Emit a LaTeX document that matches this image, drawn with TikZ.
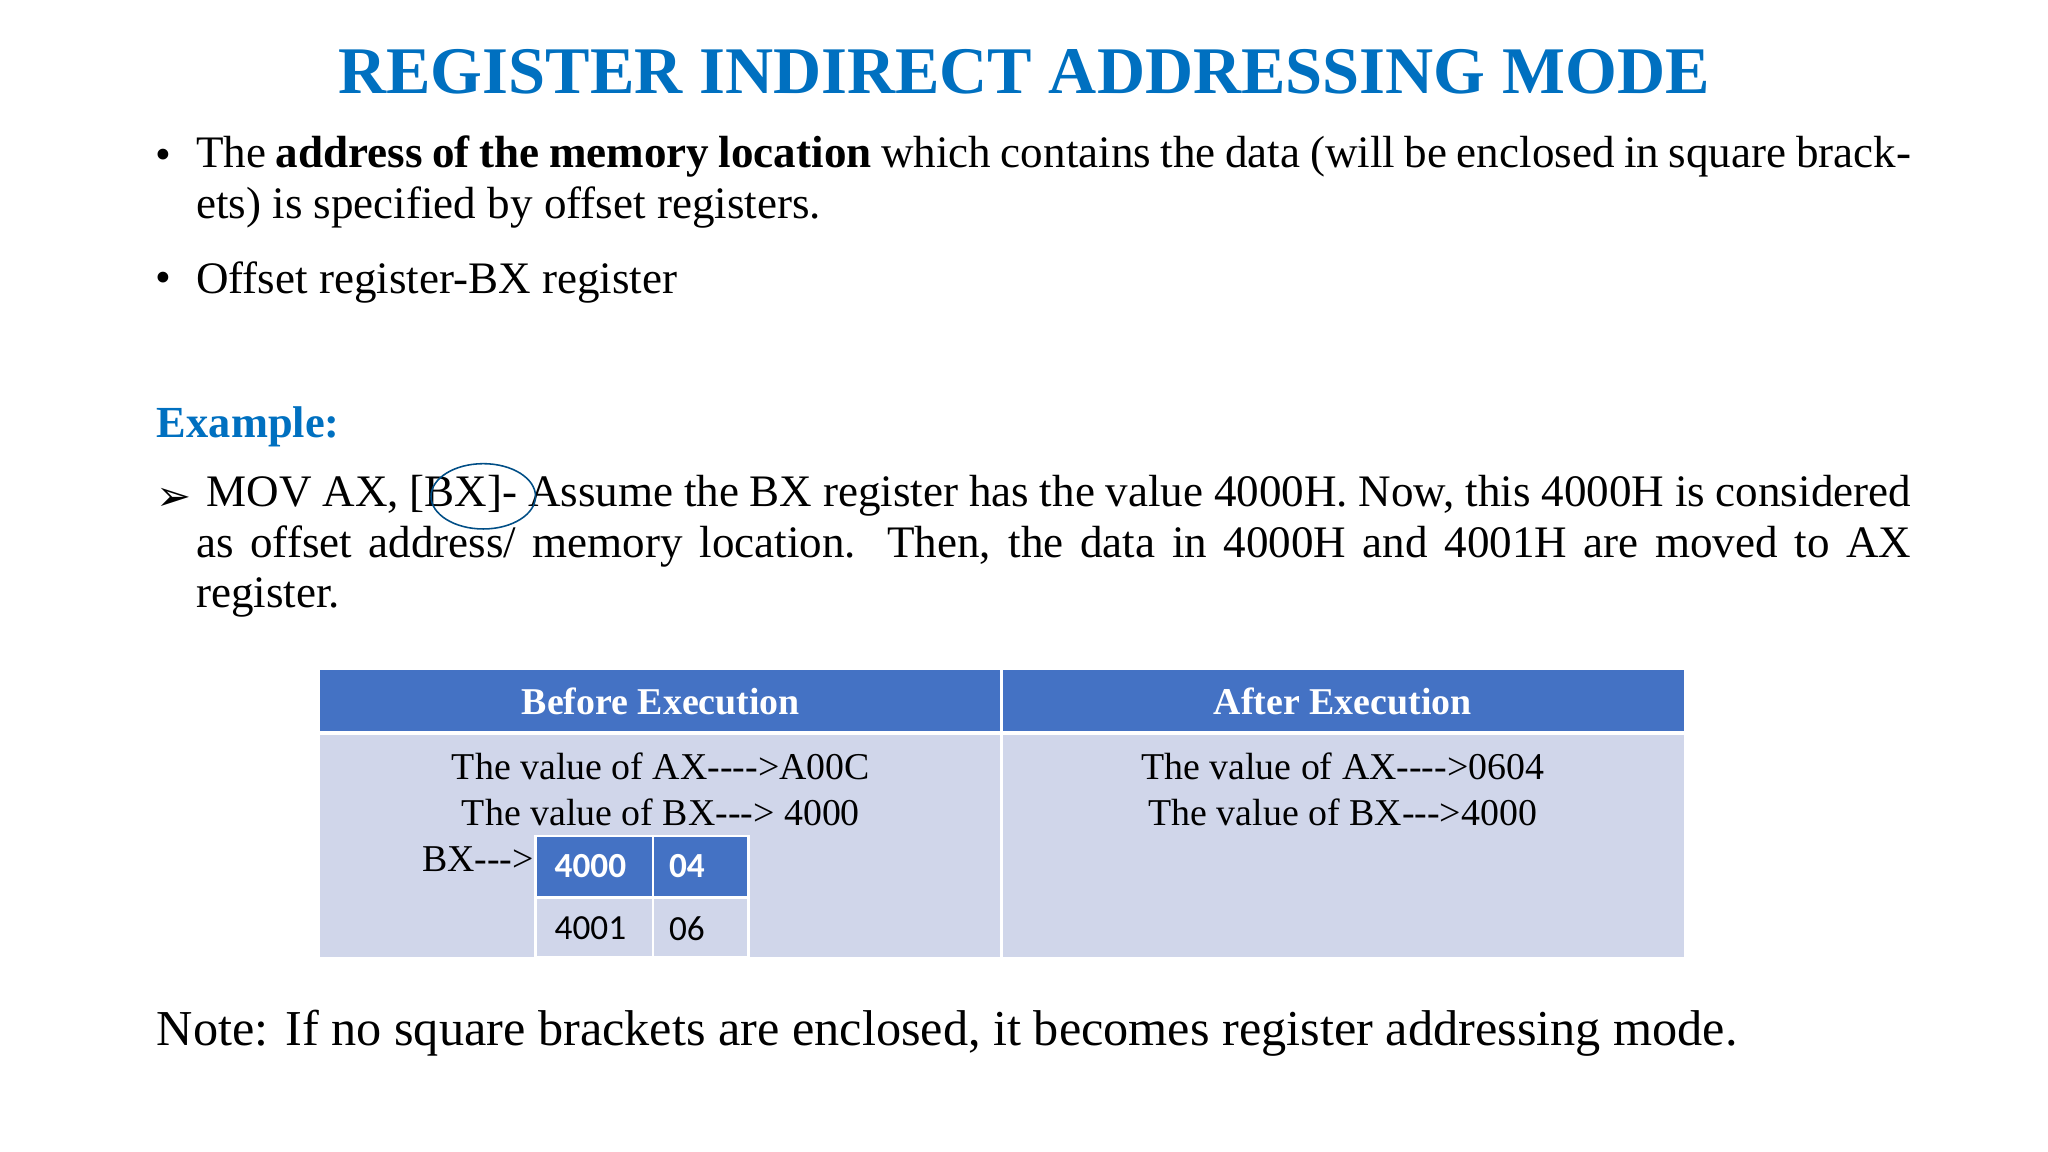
\documentclass[tikz,border=0pt]{standalone}
\usepackage{fontspec}
\setmainfont{Liberation Serif}
\newfontfamily\calib{Carlito}
\newfontfamily\djv{DejaVu Sans}
\usetikzlibrary{shapes.geometric}
\definecolor{ttl}{RGB}{0,112,192}
\definecolor{hdr}{RGB}{68,114,196}
\definecolor{bdy}{RGB}{208,214,234}
\newcommand{\dd}{-{}}
\tikzset{
 txt/.style={inner sep=0pt,font=\fontsize{34.5}{38.5}\selectfont},
 cell/.style={inner sep=0pt,font=\fontsize{29}{34}\selectfont},
 num/.style={inner sep=0pt,font=\calib\fontsize{27}{32}\selectfont}
}
\begin{document}
\begin{tikzpicture}[x=1pt,y=-1pt]
\useasboundingbox[fill=white] (0,0) rectangle (1568,882);
\node[inner sep=0pt,text=ttl,font=\bfseries\fontsize{51}{56}\selectfont] (title) at (784,55) {REGISTER INDIRECT ADDRESSING MODE};
\node[txt] (b1) at (125,122) {•};
\node[txt,anchor=north west,text width=1313pt,align=justify] (p1) at (150,104) {The \textbf{address of the memory location} which contains the data (will be enclosed in square brackets) is specified by offset registers.};
\node[txt] (b2) at (125,216) {•};
\node[txt,anchor=west] (p2) at (150,216) {Offset register-BX register};
\node[txt,anchor=west,text=ttl,font=\bfseries\fontsize{34}{38}\selectfont] (ex) at (120,327) {Example:};
\node[inner sep=0pt,font=\djv\bfseries\fontsize{32}{34}\selectfont] (arr) at (133,382) {➢};
\node[txt,anchor=north west,text width=1313pt,align=justify] (p3) at (150,364) {\hspace{8pt}MOV AX, [BX]- Assume the BX register has the value 4000H. Now, this 4000H is considered as offset address/ memory location. Then, the data in 4000H and 4001H are moved to AX register.};
\node[draw=ttl!70!black,line width=1.2pt,ellipse,minimum width=80pt,minimum height=50pt] (circ) at (370,380) {};
% table
\fill[hdr] (245,513) rectangle (1289,560);
\fill[bdy] (245,563) rectangle (1289,733);
\draw[white,line width=2.5pt] (767,513) -- (767,733);
\draw[white,line width=2.5pt] (245,561.5) -- (1289,561.5);
\node[cell,text=white,font=\bfseries\fontsize{29}{34}\selectfont] (h1) at (506,537) {Before Execution};
\node[cell,text=white,font=\bfseries\fontsize{29}{34}\selectfont] (h2) at (1028,537) {After Execution};
\node[cell] (l1) at (506,587) {The value of AX\dd\dd\dd\dd>A00C};
\node[cell] (l2) at (506,622) {The value of BX\dd\dd\dd> 4000};
\node[cell] (l3) at (366,658) {BX\dd\dd\dd>};
\node[cell] (r1) at (1028,587) {The value of AX\dd\dd\dd\dd>0604};
\node[cell] (r2) at (1028,622) {The value of BX\dd\dd\dd>4000};
\fill[hdr] (410,640) rectangle (573,686);
\draw[white,line width=2pt] (410,640) rectangle (573,733) (500,640) -- (500,733) (410,687) -- (573,687);
\node[num,text=white,font=\calib\bfseries\fontsize{27}{32}\selectfont] (c1) at (452,663) {4000};
\node[num,text=white,font=\calib\bfseries\fontsize{27}{32}\selectfont,anchor=west] (c2) at (512,663) {04};
\node[num] (c3) at (452,711) {4001};
\node[num,anchor=west] (c4) at (512,711) {06};
\node[inner sep=0pt,anchor=west,font=\fontsize{38.5}{42}\selectfont] (note) at (120,791) {Note: If no square brackets are enclosed, it becomes register addressing mode.};
\end{tikzpicture}
\end{document}
